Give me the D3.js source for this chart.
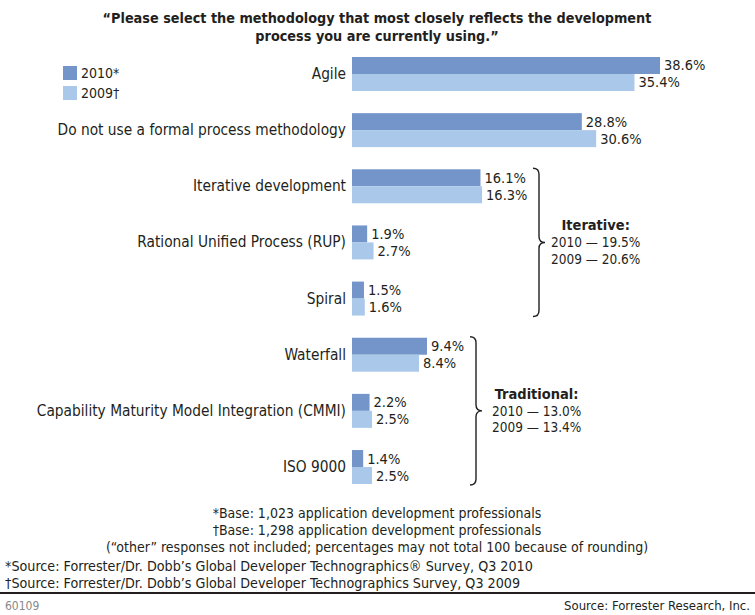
<!DOCTYPE html>
<html><head><meta charset="utf-8">
<script src="https://cdn.jsdelivr.net/npm/d3@7"></script>
<style>
body{margin:0;background:#fff;}
text{font-family:"DejaVu Sans Condensed","Liberation Sans Narrow",sans-serif;fill:#231f20;}
</style></head><body>
<svg id="c" width="755" height="615"></svg>
<script>
const categories = ["Agile","Do not use a formal process methodology","Iterative development","Rational Unified Process (RUP)","Spiral","Waterfall","Capability Maturity Model Integration (CMMI)","ISO 9000"];
const values2010 = [38.6,28.8,16.1,1.9,1.5,9.4,2.2,1.4];
const values2009 = [35.4,30.6,16.3,2.7,1.6,8.4,2.5,2.5];
const seriesNames = ["2010*","2009\u2020"];
const colors = ["#7395c9","#a9c8ea"];
const groups = [
  {title:"Iterative:", from:2, to:4, lines:["2010 \u2014 19.5%","2009 \u2014 20.6%"]},
  {title:"Traditional:", from:5, to:7, lines:["2010 \u2014 13.0%","2009 \u2014 13.4%"]}
];
const titleLines = ["\u201cPlease select the methodology that most closely reflects the development","process you are currently using.\u201d"];
const notesCenter = ["*Base: 1,023 application development professionals","\u2020Base: 1,298 application development professionals","(\u201cother\u201d responses not included; percentages may not total 100 because of rounding)"];
const notesLeft = ["*Source: Forrester/Dr. Dobb\u2019s Global Developer Technographics\u00ae Survey, Q3 2010","\u2020Source: Forrester/Dr. Dobb\u2019s Global Developer Technographics Survey, Q3 2009"];

const svg = d3.select("#c");
const x = d3.scaleLinear().domain([0, 38.6]).range([352, 660]);
const y = d3.scaleBand().domain(categories).range([57, 484]).paddingInner(0.395).paddingOuter(0);
const sub = d3.scaleBand().domain([0,1]).range([0, y.bandwidth()]);

// title
svg.append("g").selectAll("text").data(titleLines).join("text")
  .attr("x", 377).attr("y", (d,i)=>23 + i*18).attr("text-anchor","middle")
  .style("font-weight","bold").style("font-size","14.3px")
  .text(d=>d);

// legend
const lg = svg.append("g");
seriesNames.forEach((s,i)=>{
  lg.append("rect").attr("x",63).attr("y",66+i*20).attr("width",14).attr("height",14).attr("fill",colors[i]);
  lg.append("text").attr("x",81).attr("y",78+i*20).style("font-size","14px").text(s);
});

// bars
const series = [values2010, values2009];
const g = svg.append("g");
series.forEach((vals,si)=>{
  g.selectAll(null).data(categories).join("rect")
    .attr("x", x(0)).attr("y", d=>y(d)+sub(si))
    .attr("width", (d,i)=>x(vals[i])-x(0)).attr("height", sub.bandwidth())
    .attr("fill", colors[si]);
  g.selectAll(null).data(categories).join("text")
    .attr("x", (d,i)=>x(vals[i])+4).attr("y", d=>y(d)+sub(si)+sub.bandwidth()/2+5)
    .style("font-size","14.5px").text((d,i)=>vals[i].toFixed(1)+"%");
});

// category labels
svg.append("g").selectAll("text").data(categories).join("text")
  .attr("x", 346).attr("y", d=>y(d)+y.bandwidth()/2+5).attr("text-anchor","end")
  .style("font-size","15.3px").text(d=>d);

// braces
const braceX = [533, 470];
const textGap = [6, 10];
groups.forEach((gr,gi)=>{
  const top = y(categories[gr.from]) - 1, bot = y(categories[gr.to]) + y.bandwidth() + 1;
  const mid = (top+bot)/2, x0 = braceX[gi], w = 12, xm = x0 + w/2, r = 6;
  const p = `M${x0},${top} Q${xm},${top} ${xm},${top+r} L${xm},${mid-r} Q${xm},${mid} ${x0+w},${mid} Q${xm},${mid} ${xm},${mid+r} L${xm},${bot-r} Q${xm},${bot} ${x0},${bot}`;
  svg.append("path").attr("d",p).attr("fill","none").attr("stroke","#231f20").attr("stroke-width",1.4);
  const lx = x0 + w + textGap[gi];
  const lines = gr.lines.map((l,li)=>svg.append("text").attr("x",lx).attr("y",mid+5+li*16.5)
      .style("font-size","13.5px").text(l));
  const lw = d3.max(lines, t=>t.node().getComputedTextLength());
  svg.append("text").attr("x",lx + lw/2).attr("y",mid-12).attr("text-anchor","middle")
    .style("font-weight","bold").style("font-size","14.5px").text(gr.title);
});

// notes
svg.append("g").selectAll("text").data(notesCenter).join("text")
  .attr("x",377).attr("y",(d,i)=>518+i*17).attr("text-anchor","middle")
  .style("font-size","14px").text(d=>d);
svg.append("g").selectAll("text").data(notesLeft).join("text")
  .attr("x",5).attr("y",(d,i)=>571+i*17)
  .style("font-size","14.2px").text(d=>d);
svg.append("line").attr("x1",0).attr("x2",755).attr("y1",593).attr("y2",593).attr("stroke","#231f20").attr("stroke-width",2);
svg.append("text").attr("x",5).attr("y",610).style("font-size","12px").style("fill","#888").text("60109");
svg.append("text").attr("x",750).attr("y",610).attr("text-anchor","end").style("font-size","13px").text("Source: Forrester Research, Inc.");
</script>
</body></html>
